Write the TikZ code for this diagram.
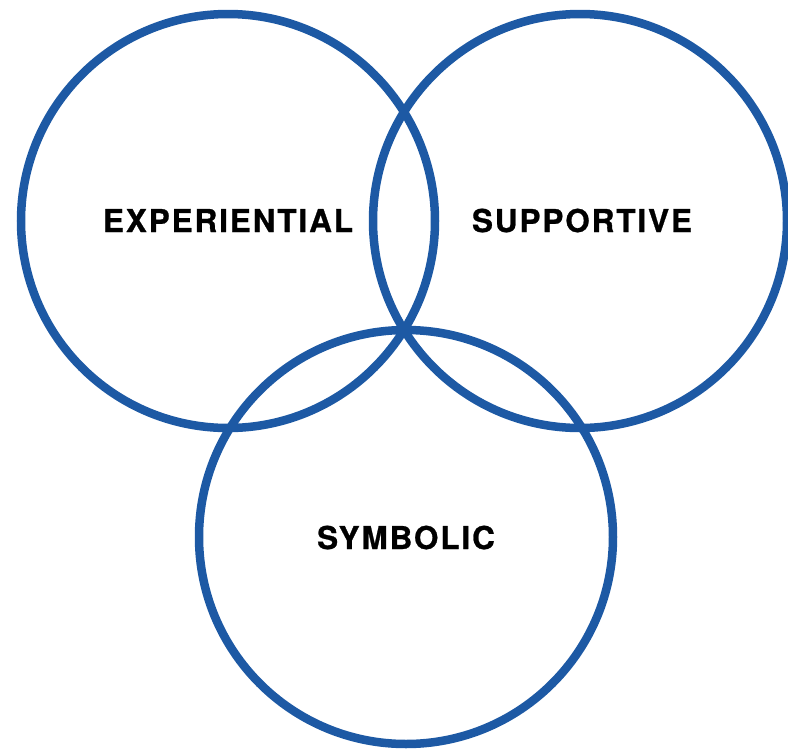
\documentclass[tikz,border=0pt]{standalone}
\usepackage{fontspec}
\newfontfamily\labelfont[LetterSpace=6,FakeBold=0.8]{TeX Gyre Heros}
\definecolor{ringblue}{RGB}{29,89,164}
\begin{document}
\begin{tikzpicture}[x=1pt,y=-1pt,
  ring/.style={circle, draw=ringblue, line width=8.5pt, minimum size=414pt, inner sep=0pt},
  tag/.style={anchor=base, inner sep=0pt, font=\labelfont\bfseries\fontsize{31.5}{36}\selectfont}]
  \useasboundingbox (0,0) rectangle (788,753);
  % three overlapping rings
  \node[ring] (expring) at (228,221) {};
  \node[ring] (supring) at (580,221) {};
  \node[ring] (symring) at (406,537) {};
  % labels
  \node[tag] (exptag) at (228,232) {EXPERIENTIAL};
  \node[tag] (suptag) at (582,232) {SUPPORTIVE};
  \node[tag] (symtag) at (406,549) {SYMBOLIC};
\end{tikzpicture}
\end{document}
